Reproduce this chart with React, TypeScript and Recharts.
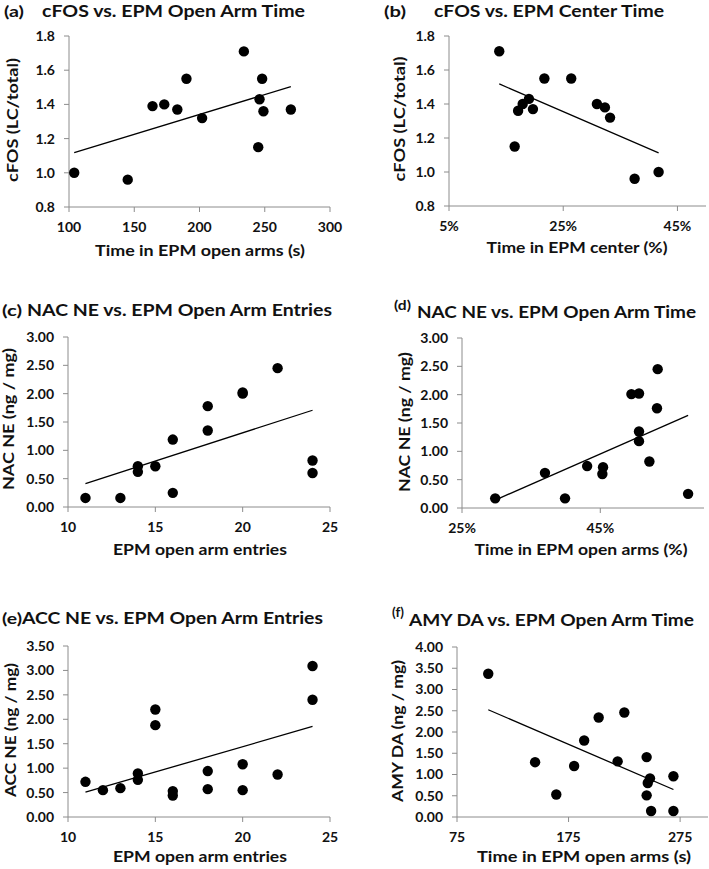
import React from 'react';
import {
  ScatterChart,
  Scatter,
  XAxis,
  YAxis,
  ReferenceLine,
} from 'recharts';

// (a) cFOS vs open arm time
const aOpenTime = [104, 145, 164, 173, 183, 190, 202, 234, 245, 246, 248, 249, 270];
const aCfos = [1.0, 0.96, 1.39, 1.4, 1.37, 1.55, 1.32, 1.71, 1.15, 1.43, 1.55, 1.36, 1.37];

// (b) cFOS vs center time (%)
const bCenterPct = [13.8, 16.5, 17.1, 17.9, 19.0, 19.7, 21.7, 26.4, 30.9, 32.3, 33.2, 37.5, 41.7];
const bCfos = [1.71, 1.15, 1.36, 1.4, 1.43, 1.37, 1.55, 1.55, 1.4, 1.38, 1.32, 0.96, 1.0];

// (c) NAC NE vs open arm entries
const cEntries = [11, 13, 14, 14, 15, 16, 16, 18, 18, 20, 20, 22, 24, 24];
const cNacNe = [0.16, 0.16, 0.72, 0.62, 0.72, 1.19, 0.25, 1.78, 1.35, 2.02, 2.0, 2.45, 0.82, 0.6];

// (d) NAC NE vs open arm time (%)
const dOpenPct = [29.8, 37.0, 39.9, 43.1, 45.4, 45.3, 49.5, 50.6, 50.6, 50.6, 52.1, 53.2, 53.3, 57.7];
const dNacNe = [0.17, 0.62, 0.17, 0.74, 0.72, 0.6, 2.01, 2.02, 1.35, 1.18, 0.82, 1.76, 2.45, 0.25];

// (e) ACC NE vs open arm entries
const eEntries = [11, 12, 13, 14, 14, 15, 15, 16, 16, 18, 18, 20, 20, 22, 24, 24];
const eAccNe = [0.72, 0.55, 0.59, 0.89, 0.76, 2.2, 1.88, 0.53, 0.44, 0.94, 0.57, 1.08, 0.55, 0.87, 3.09, 2.4];

// (f) AMY DA vs open arm time
const fOpenTime = [103, 145, 164, 180, 189, 202, 219, 225, 245, 246, 248, 245, 249, 269, 269];
const fAmyDa = [3.37, 1.29, 0.53, 1.2, 1.8, 2.34, 1.31, 2.46, 1.41, 0.8, 0.91, 0.51, 0.14, 0.96, 0.14];

const ticksA = { x: [100, 150, 200, 250, 300], y: [0.8, 1.0, 1.2, 1.4, 1.6, 1.8] };
const ticksB = { x: [5, 25, 45], y: [0.8, 1.0, 1.2, 1.4, 1.6, 1.8] };
const ticksNE3 = [0, 0.5, 1, 1.5, 2, 2.5, 3];
const ticksNE35 = [0, 0.5, 1, 1.5, 2, 2.5, 3, 3.5];
const ticksDA = [0, 0.5, 1, 1.5, 2, 2.5, 3, 3.5, 4];

const FONT = 'Lato, "Open Sans", sans-serif';
const AXIS = '#8c8c8c';
const YW = 44;
const XH = 34;

const zip = (xs: number[], ys: number[]) => xs.map((x, i) => ({ x, y: ys[i] }));

// least squares fit, drawn over the data's x range like an Excel trendline
const trend = (xs: number[], ys: number[]) => {
  const n = xs.length;
  const mx = xs.reduce((s, v) => s + v, 0) / n;
  const my = ys.reduce((s, v) => s + v, 0) / n;
  let sxy = 0;
  let sxx = 0;
  xs.forEach((x, i) => {
    sxy += (x - mx) * (ys[i] - my);
    sxx += (x - mx) * (x - mx);
  });
  const b = sxy / sxx;
  const x0 = Math.min(...xs);
  const x1 = Math.max(...xs);
  return [
    { x: x0, y: my + b * (x0 - mx) },
    { x: x1, y: my + b * (x1 - mx) },
  ];
};

const Dot = (props: any) => <circle cx={props.cx} cy={props.cy} r={5.2} fill="#000" />;

interface PanelProps {
  xs: number[];
  ys: number[];
  box: [number, number, number, number]; // plot left, top, right, bottom on the page
  xDomain: [number, number];
  yDomain: [number, number];
  xTicks: number[];
  yTicks: number[];
  xFmt: (v: number) => string;
  yFmt: (v: number) => string;
}

function Panel({ xs, ys, box, xDomain, yDomain, xTicks, yTicks, xFmt, yFmt }: PanelProps) {
  const [l, t, r, b] = box;
  const left = l - YW - 4;
  const top = t - 8;
  const width = Math.min(709, r + 20) - left;
  const height = b + XH + 2 - top;
  const tick = { fontSize: 14, fontWeight: 700, fill: '#111', fontFamily: FONT };
  return (
    <div style={{ position: 'absolute', left, top }}>
      <ScatterChart
        width={width}
        height={height}
        margin={{ top: 8, left: 4, right: width - (r - left), bottom: 2 }}
      >
        <XAxis
          type="number"
          dataKey="x"
          domain={xDomain}
          ticks={xTicks}
          tickFormatter={xFmt}
          allowDataOverflow
          height={XH}
          tick={tick}
          tickSize={5}
          tickMargin={10}
          stroke={AXIS}
          tickLine={{ stroke: AXIS }}
        />
        <YAxis
          type="number"
          dataKey="y"
          domain={yDomain}
          ticks={yTicks}
          tickFormatter={yFmt}
          allowDataOverflow
          width={YW}
          tick={tick}
          tickSize={5}
          tickMargin={9}
          stroke={AXIS}
          tickLine={{ stroke: AXIS }}
        />
        <ReferenceLine
          segment={trend(xs, ys)}
          stroke="#000"
          strokeWidth={1.3}
          ifOverflow="visible"
        />
        <Scatter data={zip(xs, ys)} shape={<Dot />} isAnimationActive={false} />
      </ScatterChart>
    </div>
  );
}

const f1 = (v: number) => v.toFixed(1);
const f2 = (v: number) => v.toFixed(2);
const pct = (v: number) => `${v}%`;
const int = (v: number) => String(v);

type T = { x: number; y: number; len: number; text: string; size?: number; rot?: boolean; tag?: boolean };

const texts: T[] = [
  // titles and panel letters
  { x: 4, y: 16.5, len: 20, text: '(a)', tag: true },
  { x: 42, y: 16.5, len: 263, text: 'cFOS vs. EPM Open Arm Time' },
  { x: 384, y: 16.5, len: 22, text: '(b)', tag: true },
  { x: 434, y: 16.5, len: 230, text: 'cFOS vs. EPM Center Time' },
  { x: 2, y: 316, len: 20, text: '(c)', tag: true },
  { x: 27, y: 316, len: 305, text: 'NAC NE vs. EPM Open Arm Entries' },
  { x: 394, y: 310, len: 17, text: '(d)', tag: true, size: 13 },
  { x: 417, y: 318, len: 279, text: 'NAC NE vs. EPM Open Arm Time' },
  { x: 2, y: 624, len: 20, text: '(e)', tag: true },
  { x: 22, y: 624, len: 301, text: 'ACC NE vs. EPM Open Arm Entries' },
  { x: 392, y: 617, len: 12, text: '(f)', tag: true, size: 13 },
  { x: 409, y: 626, len: 285, text: 'AMY DA vs. EPM Open Arm Time' },
  // x axis labels (center x, baseline y)
  { x: 200, y: 256, len: 210, text: 'Time in EPM open arms (s)', size: 15 },
  { x: 577, y: 253, len: 181, text: 'Time in EPM center (%)', size: 15 },
  { x: 200, y: 555, len: 174, text: 'EPM open arm entries', size: 15 },
  { x: 581, y: 555, len: 213, text: 'Time in EPM open arms (%)', size: 15 },
  { x: 200, y: 862, len: 174, text: 'EPM open arm entries', size: 15 },
  { x: 584, y: 862, len: 214, text: 'Time in EPM open arms (s)', size: 15 },
  // y axis labels (center x, center y), rotated
  { x: 12, y: 120, len: 124, text: 'cFOS (LC/total)', size: 15, rot: true },
  { x: 399, y: 119, len: 125, text: 'cFOS (LC/total)', size: 15, rot: true },
  { x: 8, y: 419, len: 142, text: 'NAC NE (ng / mg)', size: 15, rot: true },
  { x: 404, y: 422, len: 140, text: 'NAC NE (ng / mg)', size: 15, rot: true },
  { x: 10, y: 730, len: 134, text: 'ACC NE (ng / mg)', size: 15, rot: true },
  { x: 397, y: 731, len: 142, text: 'AMY DA (ng / mg)', size: 15, rot: true },
];

const isAxisLabel = (d: T) => d.size === 15;

export default function App() {
  return (
    <div
      style={{
        position: 'absolute',
        left: 0,
        top: 0,
        width: 709,
        height: 869,
        background: '#fff',
        fontFamily: FONT,
      }}
    >
      <Panel xs={aOpenTime} ys={aCfos} box={[69, 36, 330, 207]} xDomain={[100, 300]} yDomain={[0.8, 1.8]}
        xTicks={ticksA.x} yTicks={ticksA.y} xFmt={int} yFmt={f1} />
      <Panel xs={bCenterPct} ys={bCfos} box={[449, 36, 706, 206]} xDomain={[5, 50]} yDomain={[0.8, 1.8]}
        xTicks={ticksB.x} yTicks={ticksB.y} xFmt={pct} yFmt={f1} />
      <Panel xs={cEntries} ys={cNacNe} box={[68, 337, 330, 507]} xDomain={[10, 25]} yDomain={[0, 3]}
        xTicks={[10, 15, 20, 25]} yTicks={ticksNE3} xFmt={int} yFmt={f2} />
      <Panel xs={dOpenPct} ys={dNacNe} box={[462, 338, 704, 508]} xDomain={[25, 60]} yDomain={[0, 3]}
        xTicks={[25, 45]} yTicks={ticksNE3} xFmt={pct} yFmt={f2} />
      <Panel xs={eEntries} ys={eAccNe} box={[68, 646, 330, 817]} xDomain={[10, 25]} yDomain={[0, 3.5]}
        xTicks={[10, 15, 20, 25]} yTicks={ticksNE35} xFmt={int} yFmt={f2} />
      <Panel xs={fOpenTime} ys={fAmyDa} box={[457, 647, 708, 817]} xDomain={[75, 300]} yDomain={[0, 4]}
        xTicks={[75, 175, 275]} yTicks={ticksDA} xFmt={int} yFmt={f2} />
      <svg
        width={709}
        height={869}
        style={{ position: 'absolute', left: 0, top: 0, pointerEvents: 'none' }}
      >
        {texts.map((d, i) => {
          const size = d.size ?? (d.tag ? 16 : 17);
          const common = {
            fontSize: size,
            fontWeight: 700,
            fill: '#111',
            fontFamily: FONT,
            textLength: d.len,
            lengthAdjust: 'spacingAndGlyphs' as const,
          };
          if (d.rot) {
            return (
              <text key={i} {...common} x={0} y={0} textAnchor="middle" dominantBaseline="central"
                transform={`translate(${d.x},${d.y}) rotate(-90)`}>
                {d.text}
              </text>
            );
          }
          return (
            <text key={i} {...common} x={d.x} y={d.y} textAnchor={isAxisLabel(d) ? 'middle' : 'start'}>
              {d.text}
            </text>
          );
        })}
      </svg>
    </div>
  );
}
